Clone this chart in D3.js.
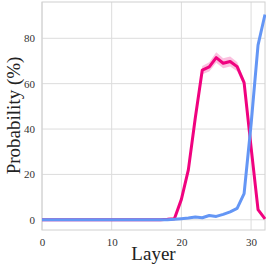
<!DOCTYPE html>
<html>
<head>
<meta charset="utf-8">
<script src="https://cdn.jsdelivr.net/npm/d3@7"></script>
<style>
  body { margin: 0; background: #fff; }
  svg text { font-family: "Liberation Serif", "DejaVu Serif", serif !important; }
</style>
</head>
<body>
<div id="chart"></div>
<script>
const layers = d3.range(0, 33)
// magenta series (mean) and its shaded band
const pinkMean = [0,0,0,0,0,0,0,0,0,0,0,0,0,0,0,0,0,0,0.2,0.5,9,22,45,66,67.4,71.5,69,69.8,67.5,60.5,32,4.5,0.4]
const pinkErr  = [0,0,0,0,0,0,0,0,0,0,0,0,0,0,0,0,0,0,0,0.3,0.8,1,1.5,1.8,2,2.3,2.2,2.2,2,1.5,1,0.5,0]
// blue series
const blueMean = [0,0,0,0,0,0,0,0,0,0,0,0,0,0,0,0,0,0,0,0.2,0.5,0.8,1.2,0.9,1.9,1.5,2.4,3.5,5,11.5,42,77,90.5]
const xTicks = [0, 10, 20, 30]
const yTicks = [0, 20, 40, 60, 80]

const width = 266, height = 266
const margin = {top: 2, right: 1, bottom: 36, left: 42}

const svg = d3.select("#chart").append("svg")
    .attr("width", width)
    .attr("height", height)

const x = d3.scaleLinear().domain([0, 32]).range([margin.left, width - margin.right])
const y = d3.scaleLinear().domain([-4.5, 96]).range([height - margin.bottom, margin.top])

// grid
svg.append("g").selectAll("line").data(xTicks).enter().append("line")
    .attr("x1", d => x(d)).attr("x2", d => x(d))
    .attr("y1", margin.top).attr("y2", height - margin.bottom)
    .attr("stroke", "#dcdcdc").attr("stroke-width", 1)
svg.append("g").selectAll("line").data(yTicks).enter().append("line")
    .attr("y1", d => y(d)).attr("y2", d => y(d))
    .attr("x1", margin.left).attr("x2", width - margin.right)
    .attr("stroke", "#dcdcdc").attr("stroke-width", 1)

// frame
svg.append("rect")
    .attr("x", margin.left).attr("y", margin.top)
    .attr("width", width - margin.right - margin.left)
    .attr("height", height - margin.bottom - margin.top)
    .attr("fill", "none").attr("stroke", "#d0d0d0").attr("stroke-width", 1)

// band
const area = d3.area()
    .x((d, i) => x(layers[i]))
    .y0((d, i) => y(pinkMean[i] - pinkErr[i]))
    .y1((d, i) => y(pinkMean[i] + pinkErr[i]))
svg.append("path").datum(pinkMean)
    .attr("d", area)
    .attr("fill", "#f0027f").attr("fill-opacity", 0.25)

const line = d3.line().x((d, i) => x(layers[i])).y(d => y(d))
svg.append("path").datum(pinkMean)
    .attr("d", line)
    .attr("fill", "none").attr("stroke", "#f0027f").attr("stroke-width", 3)
    .attr("stroke-linejoin", "round")
svg.append("path").datum(blueMean)
    .attr("d", line)
    .attr("fill", "none").attr("stroke", "#6496f5").attr("stroke-width", 3)
    .attr("stroke-linejoin", "round")

// axes (labels only)
const xAxis = d3.axisBottom(x).tickValues(xTicks).tickSize(0).tickPadding(8)
const gx = svg.append("g").attr("transform", `translate(0,${height - margin.bottom})`).call(xAxis)
const yAxis = d3.axisLeft(y).tickValues(yTicks).tickSize(0).tickPadding(7)
const gy = svg.append("g").attr("transform", `translate(${margin.left},0)`).call(yAxis)
for (const g of [gx, gy]) {
    g.attr("font-family", null)
    g.select(".domain").remove()
    g.selectAll("text")
        .attr("font-size", 11).attr("fill", "#333")
}

svg.append("text")
    .attr("x", x(16)).attr("y", 260)
    .attr("text-anchor", "middle")
    .attr("font-size", 19).attr("fill", "#222")
    .text("Layer")
svg.append("text")
    .attr("transform", `translate(20,${y(46)}) rotate(-90)`)
    .attr("text-anchor", "middle")
    .attr("font-size", 19).attr("fill", "#222")
    .text("Probability (%)")
</script>
</body>
</html>
